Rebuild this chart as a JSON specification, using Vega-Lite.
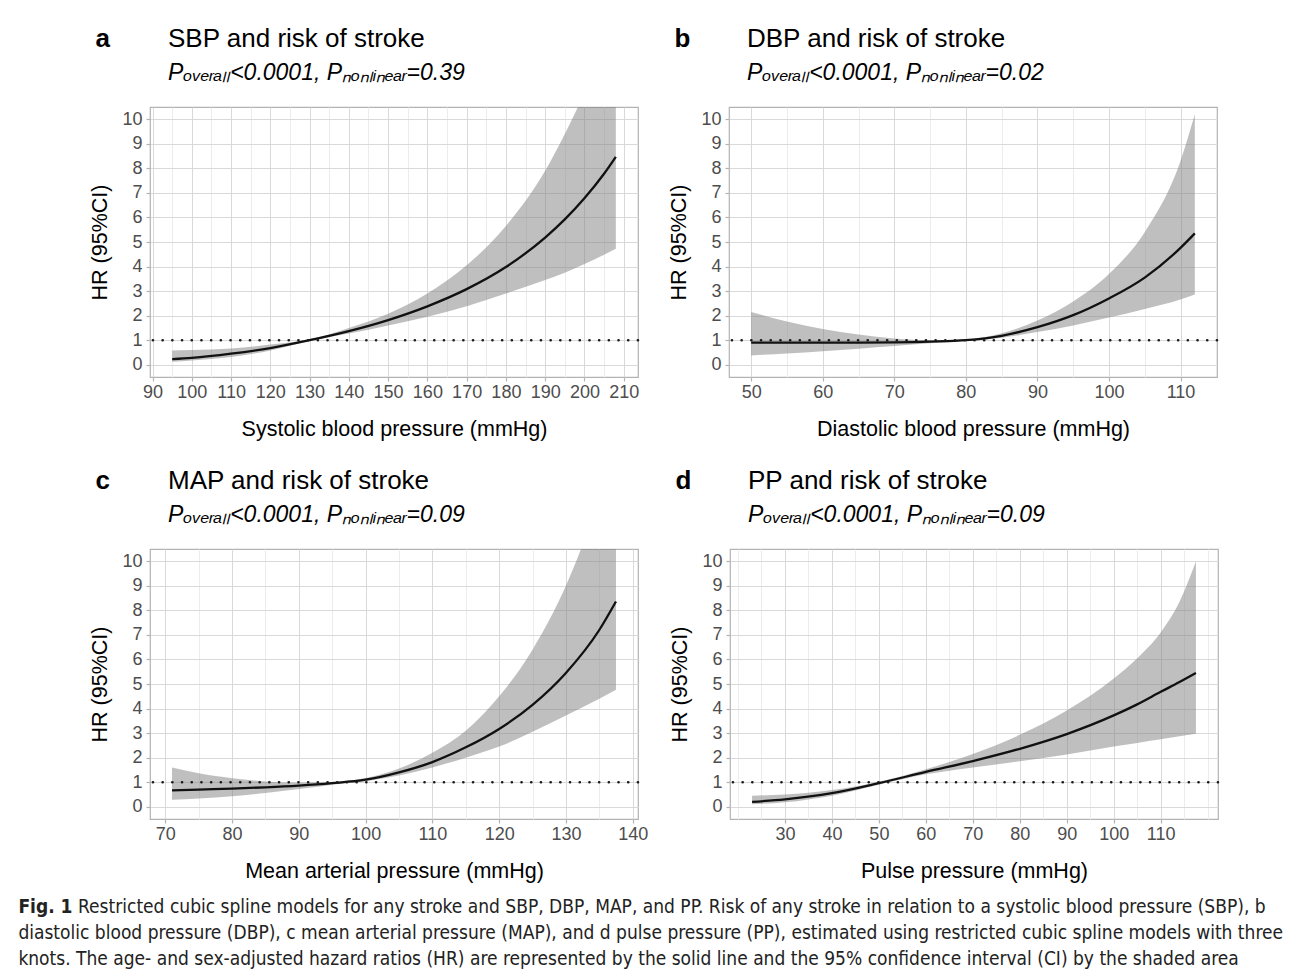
{
  "$schema": "https://vega.github.io/schema/vega-lite/v6.json",
  "background": "white",
  "padding": {"left": 18, "top": 25, "right": 10, "bottom": 10},
  "datasets": {
    "sbp": [
      {"x":95,"hr":0.23,"lo":0.12,"hi":0.58},
      {"x":100,"hr":0.28,"lo":0.17,"hi":0.6},
      {"x":110,"hr":0.45,"lo":0.31,"hi":0.66},
      {"x":120,"hr":0.68,"lo":0.58,"hi":0.82},
      {"x":130,"hr":1.0,"lo":0.97,"hi":1.04},
      {"x":140,"hr":1.37,"lo":1.27,"hi":1.5},
      {"x":150,"hr":1.82,"lo":1.6,"hi":2.08},
      {"x":160,"hr":2.38,"lo":1.95,"hi":2.9},
      {"x":170,"hr":3.08,"lo":2.38,"hi":4.05},
      {"x":180,"hr":3.98,"lo":2.9,"hi":5.65},
      {"x":190,"hr":5.18,"lo":3.45,"hi":7.9},
      {"x":195,"hr":5.92,"lo":3.75,"hi":9.4},
      {"x":200,"hr":6.78,"lo":4.1,"hi":11.1},
      {"x":205,"hr":7.78,"lo":4.48,"hi":13.2},
      {"x":208,"hr":8.47,"lo":4.73,"hi":14.6}
    ],
    "dbp": [
      {"x":50,"hr":0.9,"lo":0.38,"hi":2.15},
      {"x":55,"hr":0.9,"lo":0.46,"hi":1.76},
      {"x":60,"hr":0.9,"lo":0.55,"hi":1.46},
      {"x":65,"hr":0.9,"lo":0.65,"hi":1.23},
      {"x":70,"hr":0.91,"lo":0.76,"hi":1.07},
      {"x":75,"hr":0.94,"lo":0.87,"hi":1.0},
      {"x":80,"hr":1.0,"lo":0.97,"hi":1.03},
      {"x":85,"hr":1.18,"lo":1.1,"hi":1.28},
      {"x":90,"hr":1.53,"lo":1.33,"hi":1.8},
      {"x":95,"hr":2.02,"lo":1.6,"hi":2.58},
      {"x":100,"hr":2.7,"lo":1.92,"hi":3.7},
      {"x":105,"hr":3.55,"lo":2.27,"hi":5.4},
      {"x":110,"hr":4.76,"lo":2.66,"hi":8.3},
      {"x":112,"hr":5.35,"lo":2.86,"hi":10.2}
    ],
    "map": [
      {"x":71,"hr":0.67,"lo":0.28,"hi":1.6},
      {"x":75,"hr":0.7,"lo":0.34,"hi":1.36},
      {"x":80,"hr":0.74,"lo":0.43,"hi":1.16},
      {"x":85,"hr":0.79,"lo":0.56,"hi":1.03},
      {"x":90,"hr":0.86,"lo":0.72,"hi":0.98},
      {"x":95,"hr":0.96,"lo":0.9,"hi":1.01},
      {"x":100,"hr":1.1,"lo":1.04,"hi":1.17},
      {"x":105,"hr":1.4,"lo":1.27,"hi":1.56},
      {"x":110,"hr":1.82,"lo":1.6,"hi":2.2},
      {"x":115,"hr":2.42,"lo":2.0,"hi":3.1},
      {"x":120,"hr":3.17,"lo":2.45,"hi":4.5},
      {"x":125,"hr":4.15,"lo":3.05,"hi":6.4},
      {"x":130,"hr":5.45,"lo":3.72,"hi":9.0},
      {"x":135,"hr":7.2,"lo":4.4,"hi":12.6},
      {"x":137.5,"hr":8.36,"lo":4.77,"hi":14.8}
    ],
    "pp": [
      {"x":23,"hr":0.2,"lo":0.1,"hi":0.45},
      {"x":30,"hr":0.3,"lo":0.18,"hi":0.5},
      {"x":40,"hr":0.55,"lo":0.45,"hi":0.68},
      {"x":50,"hr":0.96,"lo":0.9,"hi":1.02},
      {"x":60,"hr":1.42,"lo":1.32,"hi":1.53},
      {"x":70,"hr":1.86,"lo":1.6,"hi":2.15},
      {"x":80,"hr":2.36,"lo":1.85,"hi":2.93},
      {"x":90,"hr":2.96,"lo":2.13,"hi":3.92},
      {"x":100,"hr":3.72,"lo":2.45,"hi":5.22},
      {"x":105,"hr":4.17,"lo":2.6,"hi":6.05},
      {"x":110,"hr":4.68,"lo":2.75,"hi":7.1},
      {"x":114,"hr":5.08,"lo":2.87,"hi":8.35},
      {"x":117.5,"hr":5.45,"lo":2.97,"hi":9.99}
    ],
    "ref": [{"hr": 1}]
  },
  "title": {
    "text": "Fig. 1",
    "subtitle": [
      "\u200b\u00a0\u00a0\u00a0\u00a0\u00a0\u00a0\u00a0\u00a0\u00a0\u00a0\u00a0Restricted cubic spline models for any stroke and SBP, DBP, MAP, and PP. Risk of any stroke in relation to a systolic blood pressure (SBP), b",
      "diastolic blood pressure (DBP), c mean arterial pressure (MAP), and d pulse pressure (PP), estimated using restricted cubic spline models with three",
      "knots. The age- and sex-adjusted hazard ratios (HR) are represented by the solid line and the 95% confidence interval (CI) by the shaded area"
    ],
    "orient": "bottom",
    "anchor": "start",
    "frame": "bounds",
    "dx": -71,
    "offset": 16,
    "font": "Liberation Sans Narrow, DejaVu Sans Condensed, sans-serif",
    "fontSize": 19,
    "fontWeight": "bold",
    "color": "#222222",
    "subtitleFont": "Liberation Sans Narrow, DejaVu Sans Condensed, sans-serif",
    "subtitleFontSize": 19,
    "subtitleColor": "#222222",
    "subtitleLineHeight": 26,
    "subtitlePadding": -19
  },
  "spacing": 26,
  "vconcat": [
    {
      "spacing": 28,
      "hconcat": [
        {
          "title": {"text": "a", "anchor": "start", "frame": "bounds", "dx": 6, "dy": 27, "offset": 0, "font": "Liberation Sans", "fontSize": 26, "fontWeight": "bold", "color": "#000000"},
          "vconcat": [
            {
              "width": 488, "height": 270,
              "title": {"text": "SBP and risk of stroke", "subtitle": "Pₒᵥₑᵣₐₗₗ<0.0001, Pₙₒₙₗᵢₙₑₐᵣ=0.39", "anchor": "start", "frame": "group", "dx": 18, "offset": 22, "font": "Liberation Sans", "fontSize": 26, "fontWeight": "normal", "color": "#000000", "subtitleFont": "Liberation Sans", "subtitleFontSize": 23, "subtitleFontStyle": "italic", "subtitleColor": "#000000", "subtitlePadding": 10},
              "layer": [
                {
                  "data": {"name": "sbp"},
                  "mark": {"type": "area", "interpolate": "monotone", "color": "#7f7f7f", "opacity": 0.5, "clip": true},
                  "encoding": {
                    "x": {"field": "x", "type": "quantitative", "title": "Systolic blood pressure (mmHg)", "scale": {"domain": [89.35, 213.65], "nice": false, "zero": false},
                      "axis": {"values": [90,95,100,105,110,115,120,125,130,135,140,145,150,155,160,165,170,175,180,185,190,195,200,205,210], "format": "d", "tickCount": 100, "labelOverlap": false, "labelExpr": "datum.value % 10 === 0 ? datum.label : ''", "gridColor": {"condition": {"test": "datum.value % 10 !== 0", "value": "#ececec"}, "value": "#d9d9d9"}, "tickColor": {"condition": {"test": "datum.value % 10 !== 0", "value": "transparent"}, "value": "#b3b3b3"}}},
                    "y": {"field": "lo", "type": "quantitative", "title": "HR (95%CI)", "scale": {"domain": [-0.5, 10.5], "nice": false, "zero": false},
                      "axis": {"values": [0,0.5,1,1.5,2,2.5,3,3.5,4,4.5,5,5.5,6,6.5,7,7.5,8,8.5,9,9.5,10], "format": "d", "tickCount": 100, "labelOverlap": false, "labelExpr": "datum.value % 1 === 0 ? datum.label : ''", "gridColor": {"condition": {"test": "datum.value % 1 !== 0", "value": "#ececec"}, "value": "#d9d9d9"}, "tickColor": {"condition": {"test": "datum.value % 1 !== 0", "value": "transparent"}, "value": "#b3b3b3"}}},
                    "y2": {"field": "hi"}
                  }
                },
                {
                  "data": {"name": "sbp"},
                  "mark": {"type": "line", "interpolate": "monotone", "color": "#111111", "strokeWidth": 2.3, "clip": true},
                  "encoding": {
                    "x": {"field": "x", "type": "quantitative", "title": "Systolic blood pressure (mmHg)", "scale": {"domain": [89.35, 213.65], "nice": false, "zero": false}},
                    "y": {"field": "hr", "type": "quantitative", "title": "HR (95%CI)", "scale": {"domain": [-0.5, 10.5], "nice": false, "zero": false}}
                  }
                },
                {
                  "data": {"name": "ref"},
                  "mark": {"type": "rule", "color": "#1a1a1a", "strokeDash": [0.1, 9.6], "strokeCap": "round", "strokeWidth": 2.6},
                  "encoding": {
                    "y": {"field": "hr", "type": "quantitative", "title": "HR (95%CI)", "scale": {"domain": [-0.5, 10.5], "nice": false, "zero": false}}
                  }
                }
              ]
            }
          ]
        },
        {
          "title": {"text": "b", "anchor": "start", "frame": "bounds", "dx": 6, "dy": 27, "offset": 0, "font": "Liberation Sans", "fontSize": 26, "fontWeight": "bold", "color": "#000000"},
          "vconcat": [
            {
              "width": 488, "height": 270,
              "title": {"text": "DBP and risk of stroke", "subtitle": "Pₒᵥₑᵣₐₗₗ<0.0001, Pₙₒₙₗᵢₙₑₐᵣ=0.02", "anchor": "start", "frame": "group", "dx": 18, "offset": 22, "font": "Liberation Sans", "fontSize": 26, "fontWeight": "normal", "color": "#000000", "subtitleFont": "Liberation Sans", "subtitleFontSize": 23, "subtitleFontStyle": "italic", "subtitleColor": "#000000", "subtitlePadding": 10},
              "layer": [
                {
                  "data": {"name": "dbp"},
                  "mark": {"type": "area", "interpolate": "monotone", "color": "#7f7f7f", "opacity": 0.5, "clip": true},
                  "encoding": {
                    "x": {"field": "x", "type": "quantitative", "title": "Diastolic blood pressure (mmHg)", "scale": {"domain": [46.9, 115.1], "nice": false, "zero": false},
                      "axis": {"values": [50,55,60,65,70,75,80,85,90,95,100,105,110], "format": "d", "tickCount": 100, "labelOverlap": false, "labelExpr": "datum.value % 10 === 0 ? datum.label : ''", "gridColor": {"condition": {"test": "datum.value % 10 !== 0", "value": "#ececec"}, "value": "#d9d9d9"}, "tickColor": {"condition": {"test": "datum.value % 10 !== 0", "value": "transparent"}, "value": "#b3b3b3"}}},
                    "y": {"field": "lo", "type": "quantitative", "title": "HR (95%CI)", "scale": {"domain": [-0.5, 10.5], "nice": false, "zero": false},
                      "axis": {"values": [0,0.5,1,1.5,2,2.5,3,3.5,4,4.5,5,5.5,6,6.5,7,7.5,8,8.5,9,9.5,10], "format": "d", "tickCount": 100, "labelOverlap": false, "labelExpr": "datum.value % 1 === 0 ? datum.label : ''", "gridColor": {"condition": {"test": "datum.value % 1 !== 0", "value": "#ececec"}, "value": "#d9d9d9"}, "tickColor": {"condition": {"test": "datum.value % 1 !== 0", "value": "transparent"}, "value": "#b3b3b3"}}},
                    "y2": {"field": "hi"}
                  }
                },
                {
                  "data": {"name": "dbp"},
                  "mark": {"type": "line", "interpolate": "monotone", "color": "#111111", "strokeWidth": 2.3, "clip": true},
                  "encoding": {
                    "x": {"field": "x", "type": "quantitative", "title": "Diastolic blood pressure (mmHg)", "scale": {"domain": [46.9, 115.1], "nice": false, "zero": false}},
                    "y": {"field": "hr", "type": "quantitative", "title": "HR (95%CI)", "scale": {"domain": [-0.5, 10.5], "nice": false, "zero": false}}
                  }
                },
                {
                  "data": {"name": "ref"},
                  "mark": {"type": "rule", "color": "#1a1a1a", "strokeDash": [0.1, 9.6], "strokeCap": "round", "strokeWidth": 2.6},
                  "encoding": {
                    "y": {"field": "hr", "type": "quantitative", "title": "HR (95%CI)", "scale": {"domain": [-0.5, 10.5], "nice": false, "zero": false}}
                  }
                }
              ]
            }
          ]
        }
      ]
    },
    {
      "spacing": 20,
      "hconcat": [
        {
          "title": {"text": "c", "anchor": "start", "frame": "bounds", "dx": 6, "dy": 27, "offset": 0, "font": "Liberation Sans", "fontSize": 26, "fontWeight": "bold", "color": "#000000"},
          "vconcat": [
            {
              "width": 488, "height": 270,
              "title": {"text": "MAP and risk of stroke", "subtitle": "Pₒᵥₑᵣₐₗₗ<0.0001, Pₙₒₙₗᵢₙₑₐᵣ=0.09", "anchor": "start", "frame": "group", "dx": 18, "offset": 22, "font": "Liberation Sans", "fontSize": 26, "fontWeight": "normal", "color": "#000000", "subtitleFont": "Liberation Sans", "subtitleFontSize": 23, "subtitleFontStyle": "italic", "subtitleColor": "#000000", "subtitlePadding": 10},
              "layer": [
                {
                  "data": {"name": "map"},
                  "mark": {"type": "area", "interpolate": "monotone", "color": "#7f7f7f", "opacity": 0.5, "clip": true},
                  "encoding": {
                    "x": {"field": "x", "type": "quantitative", "title": "Mean arterial pressure (mmHg)", "scale": {"domain": [67.7, 140.8], "nice": false, "zero": false},
                      "axis": {"values": [70,75,80,85,90,95,100,105,110,115,120,125,130,135,140], "format": "d", "tickCount": 100, "labelOverlap": false, "labelExpr": "datum.value % 10 === 0 ? datum.label : ''", "gridColor": {"condition": {"test": "datum.value % 10 !== 0", "value": "#ececec"}, "value": "#d9d9d9"}, "tickColor": {"condition": {"test": "datum.value % 10 !== 0", "value": "transparent"}, "value": "#b3b3b3"}}},
                    "y": {"field": "lo", "type": "quantitative", "title": "HR (95%CI)", "scale": {"domain": [-0.5, 10.5], "nice": false, "zero": false},
                      "axis": {"values": [0,0.5,1,1.5,2,2.5,3,3.5,4,4.5,5,5.5,6,6.5,7,7.5,8,8.5,9,9.5,10], "format": "d", "tickCount": 100, "labelOverlap": false, "labelExpr": "datum.value % 1 === 0 ? datum.label : ''", "gridColor": {"condition": {"test": "datum.value % 1 !== 0", "value": "#ececec"}, "value": "#d9d9d9"}, "tickColor": {"condition": {"test": "datum.value % 1 !== 0", "value": "transparent"}, "value": "#b3b3b3"}}},
                    "y2": {"field": "hi"}
                  }
                },
                {
                  "data": {"name": "map"},
                  "mark": {"type": "line", "interpolate": "monotone", "color": "#111111", "strokeWidth": 2.3, "clip": true},
                  "encoding": {
                    "x": {"field": "x", "type": "quantitative", "title": "Mean arterial pressure (mmHg)", "scale": {"domain": [67.7, 140.8], "nice": false, "zero": false}},
                    "y": {"field": "hr", "type": "quantitative", "title": "HR (95%CI)", "scale": {"domain": [-0.5, 10.5], "nice": false, "zero": false}}
                  }
                },
                {
                  "data": {"name": "ref"},
                  "mark": {"type": "rule", "color": "#1a1a1a", "strokeDash": [0.1, 9.6], "strokeCap": "round", "strokeWidth": 2.6},
                  "encoding": {
                    "y": {"field": "hr", "type": "quantitative", "title": "HR (95%CI)", "scale": {"domain": [-0.5, 10.5], "nice": false, "zero": false}}
                  }
                }
              ]
            }
          ]
        },
        {
          "title": {"text": "d", "anchor": "start", "frame": "bounds", "dx": 6, "dy": 27, "offset": 0, "font": "Liberation Sans", "fontSize": 26, "fontWeight": "bold", "color": "#000000"},
          "vconcat": [
            {
              "width": 488, "height": 270,
              "title": {"text": "PP and risk of stroke", "subtitle": "Pₒᵥₑᵣₐₗₗ<0.0001, Pₙₒₙₗᵢₙₑₐᵣ=0.09", "anchor": "start", "frame": "group", "dx": 18, "offset": 22, "font": "Liberation Sans", "fontSize": 26, "fontWeight": "normal", "color": "#000000", "subtitleFont": "Liberation Sans", "subtitleFontSize": 23, "subtitleFontStyle": "italic", "subtitleColor": "#000000", "subtitlePadding": 10},
              "layer": [
                {
                  "data": {"name": "pp"},
                  "mark": {"type": "area", "interpolate": "monotone", "color": "#7f7f7f", "opacity": 0.5, "clip": true},
                  "encoding": {
                    "x": {"field": "x", "type": "quantitative", "title": "Pulse pressure (mmHg)", "scale": {"domain": [18.3, 122.2], "nice": false, "zero": false},
                      "axis": {"values": [20,25,30,35,40,45,50,55,60,65,70,75,80,85,90,95,100,105,110,115,120], "format": "d", "tickCount": 100, "labelOverlap": false, "labelExpr": "datum.value % 10 === 0 && datum.value >= 30 && datum.value <= 110 ? datum.label : ''", "gridColor": {"condition": {"test": "datum.value % 10 !== 0 || datum.value < 30 || datum.value > 110", "value": "#ececec"}, "value": "#d9d9d9"}, "tickColor": {"condition": {"test": "datum.value % 10 !== 0 || datum.value < 30 || datum.value > 110", "value": "transparent"}, "value": "#b3b3b3"}}},
                    "y": {"field": "lo", "type": "quantitative", "title": "HR (95%CI)", "scale": {"domain": [-0.5, 10.5], "nice": false, "zero": false},
                      "axis": {"values": [0,0.5,1,1.5,2,2.5,3,3.5,4,4.5,5,5.5,6,6.5,7,7.5,8,8.5,9,9.5,10], "format": "d", "tickCount": 100, "labelOverlap": false, "labelExpr": "datum.value % 1 === 0 ? datum.label : ''", "gridColor": {"condition": {"test": "datum.value % 1 !== 0", "value": "#ececec"}, "value": "#d9d9d9"}, "tickColor": {"condition": {"test": "datum.value % 1 !== 0", "value": "transparent"}, "value": "#b3b3b3"}}},
                    "y2": {"field": "hi"}
                  }
                },
                {
                  "data": {"name": "pp"},
                  "mark": {"type": "line", "interpolate": "monotone", "color": "#111111", "strokeWidth": 2.3, "clip": true},
                  "encoding": {
                    "x": {"field": "x", "type": "quantitative", "title": "Pulse pressure (mmHg)", "scale": {"domain": [18.3, 122.2], "nice": false, "zero": false}},
                    "y": {"field": "hr", "type": "quantitative", "title": "HR (95%CI)", "scale": {"domain": [-0.5, 10.5], "nice": false, "zero": false}}
                  }
                },
                {
                  "data": {"name": "ref"},
                  "mark": {"type": "rule", "color": "#1a1a1a", "strokeDash": [0.1, 9.6], "strokeCap": "round", "strokeWidth": 2.6},
                  "encoding": {
                    "y": {"field": "hr", "type": "quantitative", "title": "HR (95%CI)", "scale": {"domain": [-0.5, 10.5], "nice": false, "zero": false}}
                  }
                }
              ]
            }
          ]
        }
      ]
    }
  ],
  "config": {
    "font": "Liberation Sans",
    "view": {"stroke": "#b3b3b3", "strokeWidth": 1.2},
    "axis": {
      "labelFont": "Liberation Sans", "labelFontSize": 18, "labelColor": "#4d4d4d",
      "titleFont": "Liberation Sans", "titleFontSize": 21.5, "titleFontWeight": "normal", "titleColor": "#000000",
      "tickSize": 4, "tickWidth": 1.2, "gridWidth": 1, "domain": false,
      "labelFlush": false, "labelOverlap": false
    },
    "axisX": {"labelPadding": 2, "titlePadding": 17},
    "axisY": {"labelPadding": 4, "titlePadding": 10}
  }
}
